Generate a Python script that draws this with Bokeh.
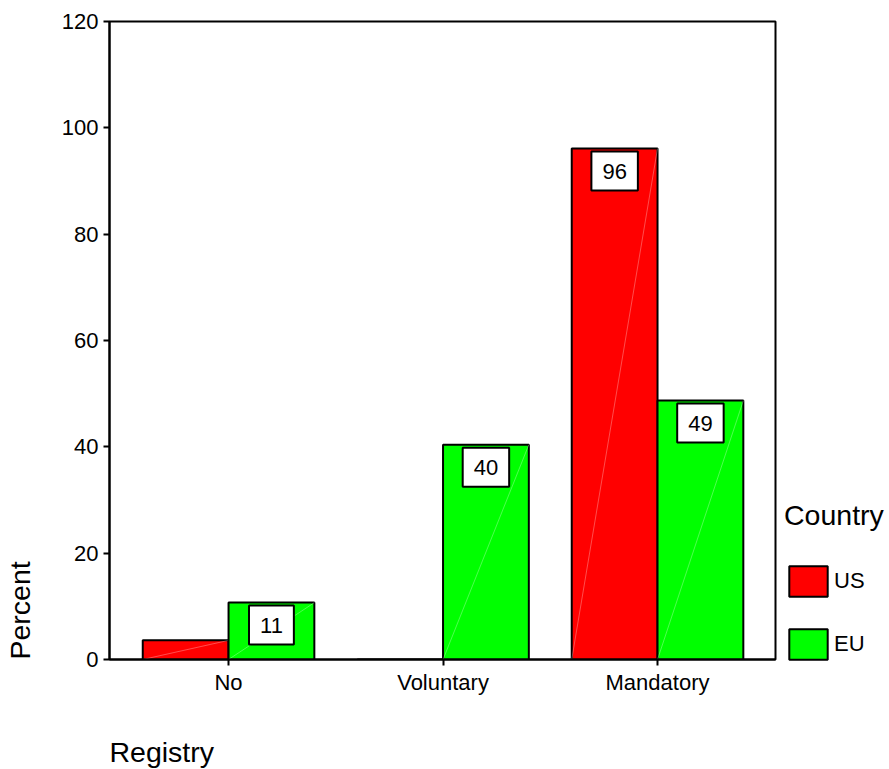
from bokeh.plotting import figure
from bokeh.models import Range1d, FixedTicker, Legend, LegendItem, ColumnDataSource, Title
from bokeh.core.properties import value
from bokeh.embed import file_html
from bokeh.resources import INLINE

# ---- data ----
categories = ["No", "Voluntary", "Mandatory"]
countries = ["US", "EU"]
us_values = [3.6, 0.0, 96.1]
eu_values = [10.7, 40.4, 48.7]
y_ticks = [0, 20, 40, 60, 80, 100, 120]
colors = ["#FF0000", "#00FF00"]

FONT = "Liberation Sans"
TITLE_SIZE = "28.5px"
BAR_W = 0.4
offsets = [-0.2, 0.2]

p = figure(frame_width=666, frame_height=638, output_backend="svg",
           toolbar_location=None, tools="",
           x_range=Range1d(-0.555, 2.55), y_range=Range1d(0, 120),
           min_border_left=109, min_border_right=114, min_border_top=21,
           min_border_bottom=110)

p.xgrid.visible = False
p.ygrid.visible = False
p.outline_line_color = "black"
p.outline_line_width = 2
p.background_fill_color = "white"
p.border_fill_color = "white"

renderers = []
label_x, label_y, label_t = [], [], []
for series, off, col in zip([us_values, eu_values], offsets, colors):
    xs = [i + off for i in range(len(categories))]
    src = ColumnDataSource(dict(x=xs, top=series))
    r = p.vbar(x="x", top="top", width=BAR_W, source=src, fill_color=col,
               line_color="black", line_width=2)
    renderers.append(r)
    seg = ColumnDataSource(dict(x0=[x - BAR_W / 2 for x, v in zip(xs, series) if v > 0],
                                x1=[x + BAR_W / 2 for x, v in zip(xs, series) if v > 0],
                                y0=[0 for v in series if v > 0],
                                y1=[v for v in series if v > 0]))
    p.segment(x0="x0", y0="y0", x1="x1", y1="y1", source=seg, line_color="white",
              line_alpha=0.3, line_width=1)
    for x, v in zip(xs, series):
        if v >= 10:
            label_x.append(x)
            label_y.append(v)
            label_t.append(str(round(v)))

lab_src = ColumnDataSource(dict(x=label_x, y=label_y, t=label_t))
p.text(x="x", y="y", text="t", source=lab_src, text_font=value(FONT),
       text_font_size="22px", text_color="black", text_align="center",
       text_baseline="top", y_offset=3,
       background_fill_color="white", border_line_color="black",
       border_line_width=2, padding=(11, 12))

for ax in (p.xaxis[0], p.yaxis[0]):
    ax.axis_line_width = 2
    ax.axis_line_color = "black"
    ax.major_tick_line_width = 2
    ax.major_tick_line_color = "black"
    ax.major_tick_out = 6
    ax.major_tick_in = 0
    ax.minor_tick_out = 0
    ax.minor_tick_in = 0
    ax.major_label_text_font = FONT
    ax.major_label_text_font_size = "22px"
    ax.major_label_text_color = "black"

p.xaxis.ticker = FixedTicker(ticks=list(range(len(categories))))
p.xaxis.major_label_overrides = {i: c for i, c in enumerate(categories)}
p.xaxis.major_label_standoff = 4

p.yaxis.ticker = FixedTicker(ticks=y_ticks)
p.yaxis.major_label_standoff = 5

# spacers between tick labels and the axis titles
p.add_layout(Title(text=" ", text_font_size="1px", standoff=20), "left")
p.add_layout(Title(text="Percent", align="left", vertical_align="bottom",
                   text_font=FONT, text_font_size=TITLE_SIZE,
                   text_font_style="normal", text_color="black", standoff=0), "left")
p.add_layout(Title(text=" ", text_font_size="1px", standoff=35), "below")
p.add_layout(Title(text="Registry", align="left", vertical_align="top",
                   text_font=FONT, text_font_size=TITLE_SIZE,
                   text_font_style="normal", text_color="black", standoff=0), "below")

legend = Legend(items=[LegendItem(label=c, renderers=[r]) for c, r in zip(countries, renderers)],
                location=(9, -4), title="Country",
                title_text_font=FONT, title_text_font_size=TITLE_SIZE,
                title_text_font_style="normal", title_text_color="black",
                title_standoff=30,
                label_text_font=FONT, label_text_font_size="22px", label_text_color="black",
                glyph_width=48, glyph_height=38, label_height=38, spacing=25,
                label_standoff=2, padding=0, margin=0,
                border_line_alpha=0, background_fill_alpha=0)
p.add_layout(legend, "right")

open("out.html", "w").write(file_html(p, INLINE))
